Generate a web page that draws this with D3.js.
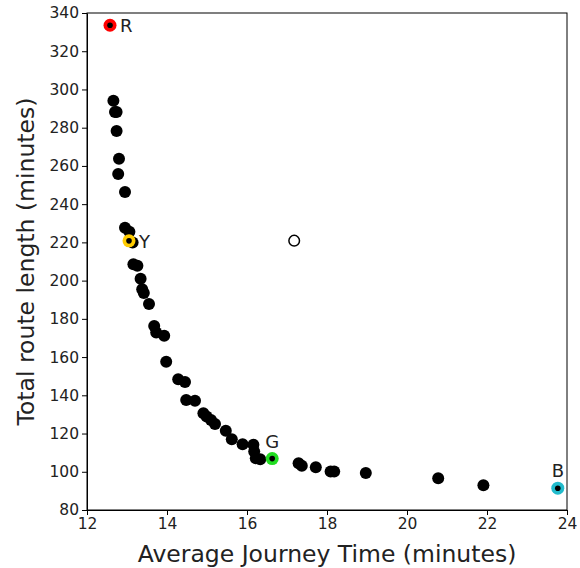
<!DOCTYPE html>
<meta charset="utf-8">

<head>
    <title>Route length vs journey time</title>
    <script src="https://d3js.org/d3.v7.min.js"></script>
    <style>
        body { margin: 0; background: #fff; }
        text { font-family: "DejaVu Sans", sans-serif; fill: #222; }
        .axis text { font-size: 15.5px; }
        .axis path, .axis line { stroke: #000; }
    </style>
</head>

<body>
    <svg width="580" height="568"></svg>
    <script>

        // average journey time (min), total route length (min)
        var journeyTime = [12.66, 12.70, 12.74, 12.74, 12.80, 12.78, 12.95, 12.95, 13.06, 13.14,
            13.16, 13.26, 13.34, 13.38, 13.42, 13.55, 13.68, 13.73, 13.93, 13.98,
            14.28, 14.45, 14.48, 14.70, 14.91, 14.99, 15.10, 15.20, 15.47, 15.62,
            15.89, 16.16, 16.18, 16.22, 16.33, 17.29, 17.37, 17.72, 18.09, 18.18,
            18.97, 20.78, 21.91];
        var routeLength = [294.1, 288.2, 288.2, 278.3, 263.8, 255.8, 246.4, 227.7, 225.6, 219.9,
            208.6, 207.8, 201.0, 195.5, 193.5, 187.8, 176.3, 172.8, 171.1, 157.6,
            148.4, 147.0, 137.6, 137.1, 130.6, 128.9, 127.1, 125.0, 121.4, 117.0,
            114.4, 114.1, 110.6, 107.1, 106.6, 104.5, 103.1, 102.4, 100.1, 100.1,
            99.3, 96.6, 93.0];

        // highlighted solutions
        var markNames = ["R", "Y", "G", "B"];
        var markTime = [12.575, 13.05, 16.63, 23.77];
        var markLength = [333.6, 220.8, 106.9, 91.4];
        var markColors = ["#ff0000", "#ffcc00", "#22dd22", "#22bbcc"];
        var labelSide = ["right", "right", "top", "top"];

        // the lone open circle
        var openPoint = [17.18, 220.9];

        var xTicks = [12, 14, 16, 18, 20, 22, 24];
        var yTicks = [80, 100, 120, 140, 160, 180, 200, 220, 240, 260, 280, 300, 320, 340];

        var svg = d3.select("svg"),
            margin = { top: 13, right: 13, bottom: 58, left: 87 },
            width = +svg.attr("width") - margin.left - margin.right,
            height = +svg.attr("height") - margin.top - margin.bottom,
            g = svg.append("g").attr("transform", "translate(" + margin.left + "," + margin.top + ")");

        var x = d3.scaleLinear().domain([12, 24]).range([0, width]);
        var y = d3.scaleLinear().domain([80, 340]).range([height, 0]);

        g.append("g")
            .attr("class", "axis")
            .attr("transform", "translate(0," + height + ")")
            .call(d3.axisBottom(x).tickValues(xTicks).tickSize(5).tickSizeOuter(0));

        g.append("g")
            .attr("class", "axis")
            .call(d3.axisLeft(y).tickValues(yTicks).tickSize(5).tickSizeOuter(0));

        // frame
        g.append("rect")
            .attr("width", width)
            .attr("height", height)
            .attr("fill", "none")
            .attr("stroke", "#000");

        g.append("text")
            .attr("x", width / 2)
            .attr("y", height + 52)
            .attr("text-anchor", "middle")
            .style("font-size", "23.5px")
            .text("Average Journey Time (minutes)");

        g.append("text")
            .attr("transform", "translate(-53," + height / 2 + ") rotate(-90)")
            .attr("text-anchor", "middle")
            .style("font-size", "23.5px")
            .text("Total route length (minutes)");

        var pts = d3.range(journeyTime.length).map(function (i) {
            return { t: journeyTime[i], l: routeLength[i] };
        });

        g.selectAll(".pt")
            .data(pts)
            .enter().append("circle")
            .attr("class", "pt")
            .attr("cx", function (d) { return x(d.t); })
            .attr("cy", function (d) { return y(d.l); })
            .attr("r", 6)
            .attr("fill", "#000");

        g.append("circle")
            .attr("cx", x(openPoint[0]))
            .attr("cy", y(openPoint[1]))
            .attr("r", 5.3)
            .attr("fill", "#fff")
            .attr("stroke", "#000")
            .attr("stroke-width", 1.5);

        var marks = markNames.map(function (n, i) {
            return { name: n, t: markTime[i], l: markLength[i], c: markColors[i], side: labelSide[i] };
        });

        var mg = g.selectAll(".mark")
            .data(marks)
            .enter().append("g")
            .attr("class", "mark")
            .attr("transform", function (d) { return "translate(" + x(d.t) + "," + y(d.l) + ")"; });

        mg.append("circle").attr("r", 6.5).attr("fill", function (d) { return d.c; });
        mg.append("circle").attr("r", 2.8).attr("fill", "#000");

        mg.append("text")
            .attr("x", function (d) { return d.side === "right" ? 10 : 0; })
            .attr("y", function (d) { return d.side === "right" ? 7 : -11; })
            .attr("text-anchor", function (d) { return d.side === "right" ? "start" : "middle"; })
            .style("font-size", "18px")
            .text(function (d) { return d.name; });

    </script>
</body>

</html>
